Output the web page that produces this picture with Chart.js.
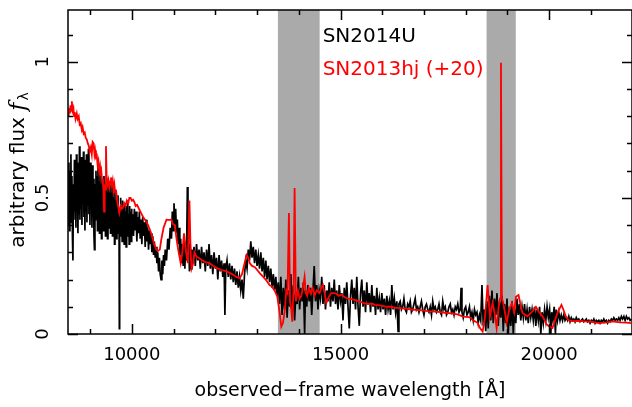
<!DOCTYPE html>
<html lang="en">
<head>
<meta charset="UTF-8">
<title>SN2014U vs SN2013hj</title>
<script src="https://cdn.jsdelivr.net/npm/chart.js"></script>
<style>
  html, body { margin: 0; padding: 0; background: #fff; }
  #wrap { width: 632px; height: 407px; }
</style>
</head>
<body>
<div id="wrap"><canvas id="spec" width="632" height="407"></canvas></div>
<script>
// [wavelength (A), flux]
const sn2014u = [
  [8480,0.40],[8492,0.63],[8504,0.38],[8516,0.60],[8528,0.44],[8540,0.66],[8552,0.41],[8564,0.58],
  [8576,0.36],[8588,0.27],[8600,0.55],[8612,0.42],[8624,0.64],[8636,0.45],[8648,0.61],[8660,0.39],
  [8672,0.66],[8684,0.47],[8696,0.59],[8708,0.37],[8720,0.63],[8732,0.44],[8744,0.69],[8756,0.42],
  [8768,0.60],[8780,0.46],[8792,0.65],[8804,0.40],[8816,0.62],[8828,0.48],[8840,0.67],[8852,0.43],
  [8864,0.58],[8876,0.38],[8888,0.64],[8900,0.45],[8912,0.66],[8924,0.41],[8936,0.61],[8948,0.47],
  [8960,0.68],[8972,0.44],[8984,0.60],[8996,0.40],[9008,0.63],[9020,0.46],[9032,0.59],[9044,0.39],
  [9056,0.62],[9068,0.43],[9080,0.57],[9092,0.36],[9104,0.31],[9116,0.55],[9128,0.42],[9140,0.60],
  [9152,0.44],[9164,0.58],[9176,0.38],[9188,0.61],[9200,0.43],[9212,0.56],[9224,0.37],[9236,0.59],
  [9248,0.41],[9260,0.55],[9272,0.35],[9284,0.57],[9296,0.42],[9308,0.53],[9320,0.38],[9332,0.58],
  [9344,0.40],[9356,0.54],[9368,0.36],[9380,0.56],[9392,0.41],[9404,0.52],[9416,0.35],[9428,0.57],
  [9440,0.39],[9452,0.53],[9464,0.42],[9476,0.55],[9488,0.37],[9500,0.52],[9512,0.40],[9524,0.56],
  [9536,0.36],[9548,0.50],[9560,0.41],[9572,0.54],[9584,0.33],[9596,0.49],[9608,0.38],[9620,0.52],
  [9632,0.35],[9644,0.48],[9656,0.40],[9668,0.51],[9680,0.37],[9692,0.46],[9700,0.02],[9708,0.45],
  [9720,0.38],[9732,0.50],[9744,0.36],[9756,0.47],[9768,0.34],[9780,0.49],[9792,0.39],[9804,0.46],
  [9816,0.33],[9828,0.48],[9840,0.37],[9852,0.45],[9864,0.32],[9876,0.47],[9888,0.38],[9900,0.49],
  [9912,0.36],[9924,0.44],[9936,0.33],[9948,0.47],[9960,0.38],[9972,0.45],[9984,0.34],[9996,0.46],
  [10008,0.37],[10020,0.44],[10040,0.36],[10060,0.46],[10080,0.38],[10100,0.45],[10120,0.34],[10140,0.43],
  [10160,0.37],[10180,0.45],[10200,0.35],[10220,0.42],[10240,0.33],[10260,0.43],[10280,0.36],[10300,0.41],
  [10320,0.32],[10340,0.42],[10360,0.34],[10380,0.39],[10400,0.31],[10420,0.38],[10440,0.33],[10460,0.37],
  [10480,0.30],[10500,0.36],[10520,0.29],[10540,0.34],[10560,0.28],[10580,0.32],[10600,0.26],[10620,0.30],
  [10640,0.23],[10660,0.28],[10680,0.22],[10700,0.20],[10720,0.27],[10740,0.22],[10760,0.29],[10780,0.25],
  [10800,0.31],[10830,0.27],[10860,0.35],[10890,0.31],[10920,0.39],[10950,0.35],[10970,0.45],[10990,0.38],
  [11010,0.48],[11030,0.40],[11050,0.46],[11070,0.37],[11090,0.42],[11110,0.33],[11130,0.39],[11150,0.29],
  [11170,0.35],[11190,0.26],[11210,0.33],[11230,0.25],[11250,0.34],[11270,0.24],[11290,0.33],[11310,0.27],
  [11330,0.54],[11345,0.29],[11360,0.36],[11380,0.23],[11400,0.33],[11420,0.24],[11440,0.31],[11460,0.26],
  [11490,0.32],[11520,0.25],[11550,0.33],[11580,0.27],[11610,0.31],[11640,0.24],[11670,0.32],[11700,0.26],
  [11730,0.30],[11760,0.23],[11790,0.31],[11820,0.25],[11850,0.33],[11880,0.24],[11910,0.29],[11940,0.22],
  [11970,0.30],[12000,0.24],[12030,0.28],[12060,0.20],[12090,0.29],[12120,0.23],[12150,0.27],[12180,0.21],
  [12210,0.26],[12230,0.07],[12250,0.24],[12280,0.27],[12310,0.21],[12340,0.26],[12370,0.20],[12400,0.25],
  [12430,0.19],[12460,0.24],[12490,0.18],[12520,0.23],[12550,0.17],[12580,0.21],[12610,0.16],[12640,0.20],
  [12670,0.13],[12700,0.22],[12730,0.27],[12760,0.24],[12790,0.31],[12820,0.27],[12850,0.34],[12880,0.28],
  [12910,0.32],[12940,0.26],[12970,0.31],[13000,0.25],[13030,0.29],[13060,0.24],[13090,0.30],[13120,0.23],
  [13150,0.28],[13180,0.21],[13210,0.27],[13240,0.20],[13270,0.25],[13300,0.19],[13330,0.24],[13360,0.17],
  [13390,0.22],[13420,0.16],[13450,0.21],[13480,0.14],[13510,0.19],[13540,0.11],[13570,0.21],[13600,0.07],
  [13630,0.17],[13660,0.09],[13690,0.20],[13720,0.06],[13750,0.16],[13780,0.10],[13810,0.22],[13840,0.08],
  [13870,0.18],[13900,0.05],[13930,0.15],[13960,0.11],[13990,0.21],[14020,0.09],[14050,0.17],[14080,0.12],
  [14110,0.19],[14140,0.00],[14160,0.16],[14190,0.10],[14220,0.18],[14250,0.12],[14280,0.17],[14310,0.07],
  [14340,0.16],[14370,0.25],[14400,0.12],[14430,0.18],[14460,0.09],[14490,0.16],[14520,0.13],[14550,0.21],
  [14580,0.11],[14610,0.18],[14640,0.09],[14670,0.16],[14700,0.12],[14730,0.19],[14760,0.10],[14790,0.17],
  [14820,0.12],[14850,0.20],[14880,0.11],[14910,0.16],[14940,0.09],[14970,0.18],[15000,0.12],[15030,0.15],
  [15060,0.05],[15090,0.17],[15120,0.11],[15150,0.19],[15180,0.10],[15210,0.02],[15240,0.14],[15270,0.20],
  [15300,0.11],[15330,0.17],[15360,0.09],[15390,0.21],[15420,0.10],[15450,0.03],[15480,0.15],[15510,0.20],
  [15540,0.10],[15570,0.16],[15600,0.08],[15630,0.19],[15660,0.11],[15690,0.15],[15720,0.08],[15750,0.18],
  [15780,0.10],[15810,0.14],[15840,0.07],[15870,0.17],[15900,0.09],[15930,0.13],[15960,0.08],[15990,0.15],
  [16020,0.09],[16050,0.13],[16080,0.07],[16110,0.14],[16140,0.09],[16170,0.12],[16200,0.07],[16230,0.18],
  [16260,0.09],[16290,0.13],[16320,0.08],[16350,0.12],[16380,0.01],[16400,0.11],[16430,0.12],[16460,0.09],
  [16490,0.10],[16520,0.13],[16550,0.09],[16580,0.08],[16610,0.11],[16640,0.10],[16670,0.12],[16700,0.08],
  [16730,0.09],[16760,0.11],[16790,0.13],[16820,0.09],[16850,0.10],[16880,0.08],[16910,0.10],[16940,0.12],
  [16970,0.09],[17000,0.07],[17030,0.10],[17060,0.11],[17090,0.09],[17120,0.08],[17150,0.10],[17180,0.07],
  [17210,0.12],[17240,0.09],[17270,0.10],[17300,0.08],[17330,0.09],[17360,0.11],[17390,0.08],[17420,0.07],
  [17450,0.12],[17480,0.09],[17510,0.10],[17540,0.07],[17570,0.08],[17600,0.10],[17630,0.11],[17660,0.08],
  [17690,0.09],[17720,0.07],[17750,0.10],[17780,0.09],[17810,0.11],[17840,0.08],[17870,0.09],[17890,0.17],
  [17910,0.08],[17940,0.06],[17970,0.09],[18000,0.10],[18030,0.07],[18060,0.08],[18090,0.10],[18120,0.06],
  [18150,0.08],[18180,0.05],[18210,0.09],[18240,0.07],[18270,0.08],[18300,0.04],[18330,0.07],[18360,0.05],
  [18390,0.18],[18420,0.03],[18450,0.09],[18480,0.01],[18510,0.12],[18540,0.02],[18570,0.14],[18600,0.05],
  [18630,0.16],[18660,0.04],[18690,0.13],[18720,0.07],[18750,0.15],[18780,0.03],[18810,0.12],[18840,0.06],
  [18870,0.14],[18900,0.01],[18930,0.11],[18960,0.04],[18990,0.13],[19020,0.00],[19050,0.10],[19080,0.03],
  [19110,0.12],[19140,0.00],[19170,0.09],[19200,0.04],[19230,0.13],[19260,0.07],[19290,0.11],[19320,0.05],
  [19350,0.10],[19380,0.06],[19410,0.11],[19440,0.05],[19470,0.09],[19500,0.04],[19530,0.10],[19560,0.06],
  [19590,0.09],[19620,0.05],[19650,0.10],[19680,0.03],[19710,0.09],[19740,0.05],[19770,0.10],[19800,0.00],
  [19830,0.08],[19860,0.04],[19890,0.09],[19920,0.05],[19950,0.10],[19980,0.06],[20010,0.09],[20040,0.00],
  [20060,0.08],[20090,0.05],[20120,0.10],[20150,0.00],[20170,0.09],[20200,0.05],[20230,0.08],[20260,0.05],
  [20290,0.07],[20320,0.05],[20350,0.07],[20380,0.05],[20410,0.06],[20440,0.05],[20470,0.065],[20500,0.045],
  [20530,0.06],[20560,0.05],[20590,0.055],[20620,0.045],[20650,0.06],[20680,0.05],[20710,0.055],[20740,0.045],
  [20770,0.05],[20800,0.055],[20830,0.045],[20860,0.05],[20890,0.055],[20920,0.045],[20950,0.05],[20980,0.04],
  [21010,0.05],[21040,0.045],[21070,0.055],[21100,0.04],[21130,0.05],[21160,0.045],[21190,0.05],[21220,0.04],
  [21250,0.05],[21280,0.045],[21310,0.055],[21340,0.045],[21370,0.05],[21400,0.04],[21430,0.05],[21460,0.045],
  [21490,0.055],[21520,0.05],[21550,0.06],[21580,0.05],[21610,0.055],[21640,0.05],[21670,0.06],[21700,0.05],
  [21730,0.065],[21760,0.055],[21790,0.065],[21820,0.05],[21850,0.065],[21880,0.055],[21910,0.06],[21940,0.05],
  [21970,0.055]
];

const sn2013hj = [
  [8485,0.80],[8500,0.83],[8515,0.81],[8530,0.84],[8545,0.82],[8562,0.855],[8580,0.82],[8600,0.83],
  [8615,0.80],[8630,0.815],[8650,0.79],[8680,0.81],[8700,0.79],[8727,0.80],[8750,0.77],[8775,0.775],
  [8800,0.75],[8820,0.76],[8845,0.735],[8871,0.74],[8895,0.72],[8920,0.715],[8945,0.70],[8970,0.69],
  [8990,0.67],[9016,0.685],[9040,0.66],[9060,0.705],[9084,0.70],[9105,0.66],[9120,0.675],[9140,0.65],
  [9160,0.655],[9180,0.62],[9200,0.635],[9220,0.60],[9238,0.615],[9255,0.58],[9270,0.595],[9290,0.56],
  [9305,0.57],[9320,0.52],[9334,0.45],[9350,0.55],[9365,0.53],[9380,0.69],[9395,0.58],[9420,0.55],
  [9440,0.565],[9460,0.54],[9480,0.56],[9500,0.575],[9520,0.55],[9540,0.565],[9560,0.53],[9580,0.55],
  [9600,0.52],[9620,0.53],[9640,0.50],[9670,0.47],[9700,0.445],[9730,0.47],[9760,0.46],[9787,0.468],
  [9820,0.48],[9850,0.47],[9880,0.49],[9913,0.48],[9940,0.50],[9970,0.50],[10000,0.49],[10029,0.493],
  [10060,0.485],[10090,0.47],[10125,0.474],[10170,0.46],[10222,0.444],[10270,0.43],[10318,0.419],[10390,0.40],
  [10463,0.370],[10540,0.327],[10590,0.31],[10627,0.305],[10670,0.31],[10704,0.346],[10760,0.39],[10830,0.42],
  [10878,0.419],[10950,0.42],[10975,0.405],[11030,0.40],[11070,0.35],[11110,0.31],[11170,0.26],[11210,0.30],
  [11250,0.37],[11300,0.30],[11341,0.26],[11380,0.49],[11409,0.297],[11430,0.24],[11470,0.26],[11500,0.30],
  [11550,0.284],[11600,0.28],[11670,0.272],[11750,0.265],[11870,0.26],[11950,0.25],[12055,0.241],[12150,0.235],
  [12270,0.230],[12400,0.22],[12500,0.21],[12586,0.205],[12640,0.22],[12682,0.248],[12750,0.29],[12790,0.28],
  [12827,0.260],[12880,0.25],[12950,0.245],[13069,0.223],[13150,0.21],[13213,0.199],[13300,0.18],[13358,0.174],
  [13421,0.16],[13485,0.137],[13540,0.08],[13581,0.027],[13620,0.04],[13660,0.08],[13700,0.16],[13730,0.15],
  [13764,0.444],[13790,0.12],[13820,0.09],[13844,0.045],[13876,0.17],[13900,0.536],[13931,0.12],[13979,0.16],
  [14020,0.13],[14059,0.14],[14100,0.17],[14139,0.21],[14170,0.15],[14202,0.14],[14240,0.17],[14282,0.15],
  [14330,0.17],[14378,0.14],[14430,0.16],[14498,0.15],[14540,0.17],[14578,0.18],[14620,0.15],[14658,0.113],
  [14700,0.13],[14777,0.15],[14830,0.15],[14897,0.148],[14960,0.14],[15016,0.145],[15100,0.135],[15176,0.13],
  [15260,0.128],[15335,0.125],[15450,0.12],[15530,0.115],[15650,0.11],[15750,0.112],[15819,0.107],[15950,0.105],
  [16109,0.100],[16200,0.10],[16300,0.097],[16400,0.095],[16495,0.094],[16600,0.092],[16700,0.09],[16881,0.088],
  [17000,0.086],[17100,0.084],[17266,0.082],[17400,0.08],[17500,0.078],[17652,0.076],[17800,0.072],[17942,0.064],
  [18086,0.062],[18180,0.05],[18286,0.041],[18350,0.02],[18406,0.009],[18460,0.06],[18525,0.18],[18581,0.065],
  [18645,0.114],[18700,0.07],[18741,0.022],[18790,0.10],[18822,0.13],[18845,0.996],[18868,0.13],[18900,0.114],
  [18940,0.08],[18980,0.041],[19044,0.09],[19108,0.114],[19163,0.08],[19203,0.137],[19266,0.143],[19310,0.11],
  [19360,0.077],[19479,0.065],[19580,0.08],[19682,0.10],[19760,0.08],[19841,0.065],[19940,0.035],[20000,0.028],
  [20080,0.022],[20197,0.077],[20294,0.107],[20340,0.09],[20397,0.065],[20470,0.05],[20556,0.047],[20700,0.048],
  [20875,0.046],[21000,0.045],[21194,0.04],[21350,0.042],[21513,0.046],[21700,0.043],[21850,0.042],[21960,0.04]
];

// telluric bands (shaded grey)
const bands = [[13500, 14500], [18500, 19200]];
const seriesNames = ['SN2014U', 'SN2013hj (+20)'];
const seriesColors = ['#000000', '#ff0000'];
const xTicks = [9000, 10000, 11000, 12000, 13000, 14000, 15000, 16000, 17000, 18000, 19000, 20000, 21000];
const xLabels = [10000, 15000, 20000];
const yTicks = [0, 0.1, 0.2, 0.3, 0.4, 0.5, 0.6, 0.7, 0.8, 0.9, 1.0, 1.1];
const yLabels = [0, 0.5, 1];

const FONT = '"DejaVu Sans", sans-serif';

function toXY(arr) { return arr.map(p => ({x: p[0], y: p[1]})); }

function fixBox(size) {
  return s => {
    if (s.isHorizontal()) s.height = size; else s.width = size;
    s.paddingTop = 0; s.paddingBottom = 0; s.paddingLeft = 0; s.paddingRight = 0;
  };
}

const framePlugin = {
  id: 'frame',
  beforeDatasetsDraw(chart) {
    const {ctx, chartArea: a, scales: {x}} = chart;
    ctx.save();
    ctx.fillStyle = '#aaaaaa';
    bands.forEach(b => {
      const x0 = x.getPixelForValue(b[0]), x1 = x.getPixelForValue(b[1]);
      ctx.fillRect(x0, a.top, x1 - x0, a.bottom - a.top);
    });
    ctx.restore();
  },
  afterDatasetsDraw(chart) {
    const {ctx, chartArea: a, scales: {x, y}} = chart;
    ctx.save();
    ctx.strokeStyle = '#000';
    ctx.lineWidth = 1.5;
    ctx.strokeRect(a.left, a.top, a.right - a.left, a.bottom - a.top);

    // inward ticks on all four sides
    ctx.beginPath();
    xTicks.forEach(v => {
      const px = Math.round(x.getPixelForValue(v)) + 0.5;
      const len = xLabels.includes(v) ? 10 : 5;
      ctx.moveTo(px, a.bottom); ctx.lineTo(px, a.bottom - len);
      ctx.moveTo(px, a.top); ctx.lineTo(px, a.top + len);
    });
    yTicks.forEach(v => {
      const py = Math.round(y.getPixelForValue(v)) + 0.5;
      const len = yLabels.includes(v) ? 10 : 5;
      ctx.moveTo(a.left, py); ctx.lineTo(a.left + len, py);
      ctx.moveTo(a.right, py); ctx.lineTo(a.right - len, py);
    });
    ctx.stroke();

    ctx.fillStyle = '#000';
    ctx.font = '18px ' + FONT;
    ctx.textAlign = 'center';
    ctx.textBaseline = 'middle';
    xLabels.forEach(v => ctx.fillText(String(v), x.getPixelForValue(v), 355));
    yLabels.forEach(v => {
      ctx.save();
      ctx.translate(43, y.getPixelForValue(v));
      ctx.rotate(-Math.PI / 2);
      ctx.fillText(String(v), 0, 0);
      ctx.restore();
    });

    // series labels
    ctx.font = '20px ' + FONT;
    ctx.textAlign = 'left';
    const lx = x.getPixelForValue(bands[0][1]) + 3;
    ctx.fillStyle = seriesColors[0];
    ctx.fillText(seriesNames[0], lx, y.getPixelForValue(1.09));
    ctx.fillStyle = seriesColors[1];
    ctx.fillText(seriesNames[1], lx, y.getPixelForValue(0.97));

    // x axis title
    ctx.fillStyle = '#000';
    ctx.font = '19px ' + FONT;
    ctx.textAlign = 'center';
    ctx.fillText('observed\u2212frame wavelength [\u00c5]', 350, 391);

    // y axis title: arbitrary flux f_lambda
    ctx.translate(19, 170);
    ctx.rotate(-Math.PI / 2);
    const t1 = 'arbitrary flux ';
    ctx.font = '20px ' + FONT;
    const w1 = ctx.measureText(t1).width;
    ctx.font = 'italic 22px "DejaVu Serif", serif';
    const w2 = ctx.measureText('f').width;
    ctx.font = '14px ' + FONT;
    const w3 = ctx.measureText('\u03bb').width;
    let sx = -(w1 + w2 + w3 + 2) / 2;
    ctx.textAlign = 'left';
    ctx.font = '20px ' + FONT;
    ctx.fillText(t1, sx, 0);
    sx += w1;
    ctx.font = 'italic 22px "DejaVu Serif", serif';
    ctx.fillText('f', sx, 0);
    sx += w2 + 2;
    ctx.font = '14px ' + FONT;
    ctx.fillText('\u03bb', sx, 5);
    ctx.restore();
  }
};

new Chart(document.getElementById('spec'), {
  type: 'line',
  data: {
    datasets: [
      { label: seriesNames[0], data: toXY(sn2014u), borderColor: seriesColors[0], borderWidth: 1.7, pointRadius: 0, tension: 0, order: 1 },
      { label: seriesNames[1], data: toXY(sn2013hj), borderColor: seriesColors[1], borderWidth: 1.8, pointRadius: 0, tension: 0, order: 0 }
    ]
  },
  options: {
    responsive: false,
    animation: false,
    devicePixelRatio: 1,
    layout: { padding: { top: 10, right: -2, left: 0, bottom: 0 } },
    plugins: { legend: { display: false }, tooltip: { enabled: false } },
    scales: {
      x: {
        type: 'linear',
        min: 8470, max: 21985,
        grid: { display: false, drawTicks: false },
        border: { display: false },
        ticks: { display: false },
        afterFit: fixBox(73)
      },
      y: {
        type: 'linear',
        min: 0, max: 1.19,
        grid: { display: false, drawTicks: false },
        border: { display: false },
        ticks: { display: false },
        afterFit: fixBox(68)
      }
    }
  },
  plugins: [framePlugin]
});
</script>
</body>
</html>
